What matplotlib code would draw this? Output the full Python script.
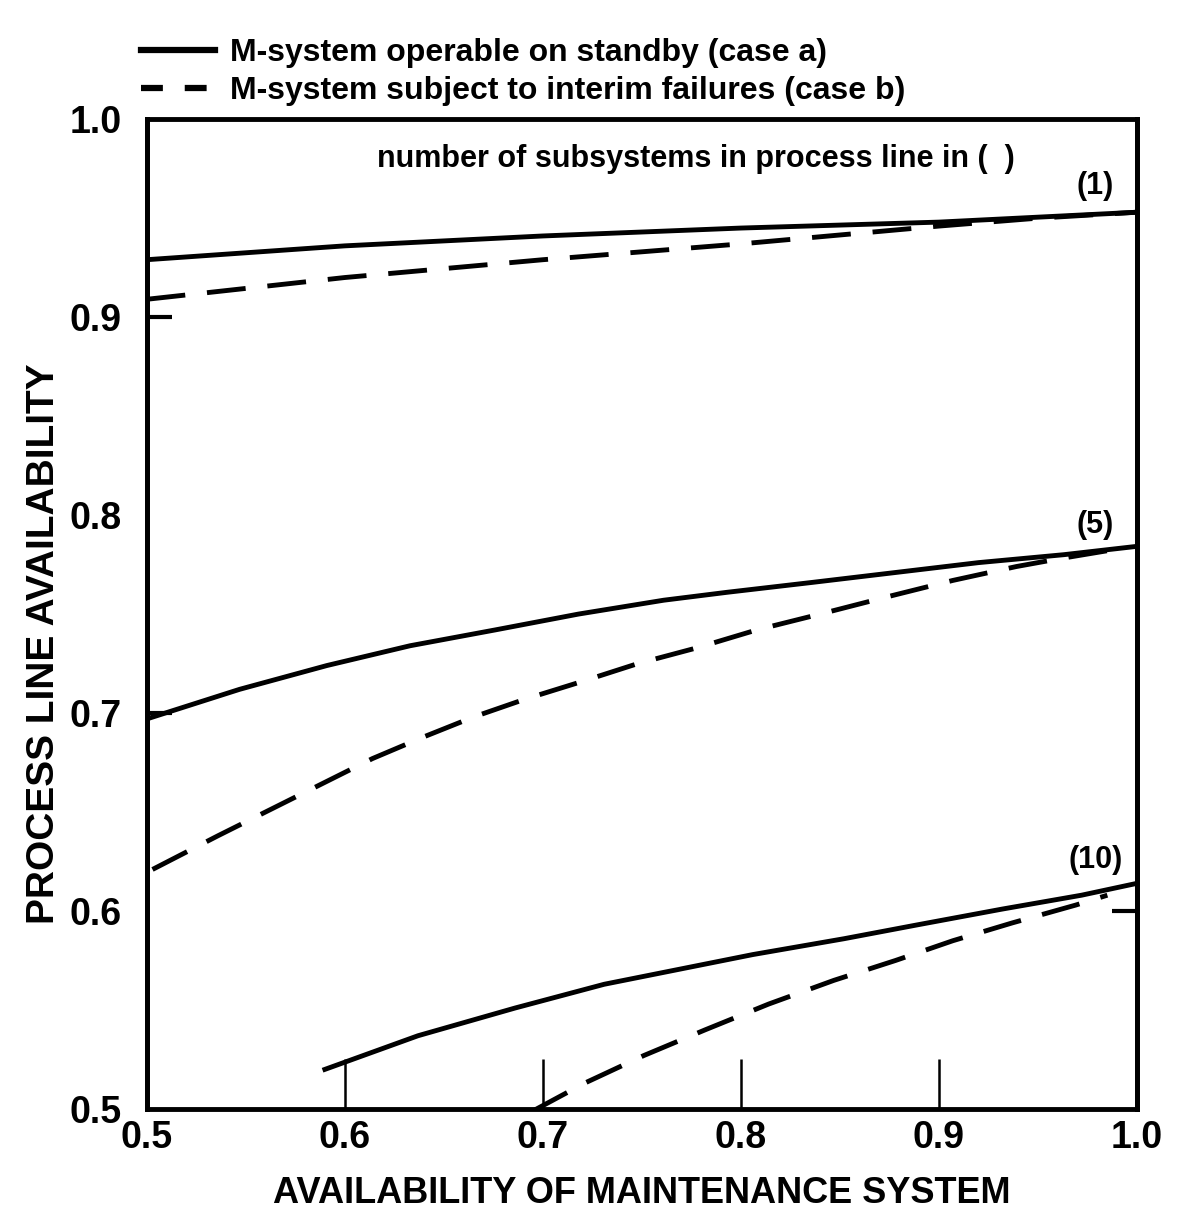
import matplotlib.pyplot as plt
from matplotlib.lines import Line2D

# values (1, 5 and 10 subsystems)
x_solid1 = [0.5, 0.6, 0.7, 0.8, 0.9, 1.0]
solid_1 = [0.929, 0.936, 0.941, 0.945, 0.948, 0.953]
x_dash1 = [0.5, 0.6, 0.7, 0.8, 0.9, 0.95, 1.0]
dashed_1 = [0.909, 0.920, 0.929, 0.937, 0.946, 0.950, 0.953]

x_solid5 = [0.5, 0.547, 0.591, 0.633, 0.676, 0.718, 0.761, 0.793, 0.836,
            0.878, 0.920, 0.963, 0.998]
solid_5 = [0.697, 0.712, 0.724, 0.734, 0.742, 0.750, 0.757, 0.761, 0.766,
           0.771, 0.776, 0.780, 0.784]
x_dash5 = [0.503, 0.536, 0.562, 0.588, 0.614, 0.640, 0.665, 0.691, 0.720,
           0.748, 0.778, 0.808, 0.840, 0.875, 0.907, 0.939, 0.961, 0.985]
dashed_5 = [0.621, 0.638, 0.651, 0.664, 0.677, 0.688, 0.698, 0.707, 0.716,
            0.725, 0.733, 0.742, 0.750, 0.759, 0.767, 0.774, 0.778, 0.782]

x_solid10 = [0.590, 0.637, 0.686, 0.731, 0.806, 0.852, 0.889, 0.932, 0.972, 1.0]
solid_10 = [0.520, 0.537, 0.551, 0.563, 0.578, 0.586, 0.593, 0.601, 0.608, 0.614]
x_dash10 = [0.695, 0.721, 0.751, 0.782, 0.814, 0.847, 0.878, 0.907, 0.937, 0.969, 0.985]
dashed_10 = [0.499, 0.513, 0.527, 0.540, 0.553, 0.565, 0.575, 0.585, 0.594, 0.603, 0.608]

x_ticks = [0.5, 0.6, 0.7, 0.8, 0.9, 1.0]
y_ticks = [0.5, 0.6, 0.7, 0.8, 0.9, 1.0]

plt.rcParams['font.family'] = ['Liberation Sans Narrow', 'Liberation Sans', 'DejaVu Sans']
plt.rcParams['font.weight'] = 'bold'

fig = plt.figure(figsize=(11.82, 12.16), dpi=100)
ax = fig.add_axes([0.124, 0.088, 0.838, 0.814])

lw = 3.5
dash = (8, 4.5)
ax.plot(x_solid1, solid_1, color='black', lw=lw)
ax.plot(x_dash1, dashed_1, color='black', lw=lw, dashes=dash)
ax.plot(x_solid5, solid_5, color='black', lw=lw)
ax.plot(x_dash5, dashed_5, color='black', lw=lw, dashes=dash)
ax.plot(x_solid10, solid_10, color='black', lw=lw)
ax.plot(x_dash10, dashed_10, color='black', lw=lw, dashes=dash)

ax.set_xlim(0.5, 1.0)
ax.set_ylim(0.5, 1.0)
for s in ax.spines.values():
    s.set_linewidth(3.5)

ax.set_xticks(x_ticks)
ax.set_xticklabels([f'{v:.1f}' for v in x_ticks])
ax.set_yticks(y_ticks)
ax.set_yticklabels([f'{v:.1f}' for v in y_ticks])
ax.tick_params(axis='x', direction='in', length=36, width=1.8, labelsize=27, pad=8)
ax.tick_params(axis='y', length=0, labelsize=27, pad=18)

# short inner ticks on the frame
left = ax.secondary_yaxis('left')
left.set_yticks([0.7, 0.9])
left.set_yticklabels(['', ''])
left.tick_params(direction='in', length=18, width=3)
left.spines['left'].set_linewidth(3.5)
right = ax.secondary_yaxis('right')
right.set_yticks([0.6])
right.set_yticklabels([''])
right.tick_params(direction='in', length=18, width=3)
right.spines['right'].set_linewidth(3.5)

ax.set_xlabel('AVAILABILITY OF MAINTENANCE SYSTEM', fontsize=26, fontweight='bold', labelpad=14)
ax.set_ylabel('PROCESS LINE AVAILABILITY', fontsize=28, fontweight='bold')
ax.yaxis.set_label_coords(-0.085, 0.47)

ax.text(0.555, 0.96, 'number of subsystems in process line in (  )',
        transform=ax.transAxes, ha='center', va='center', fontsize=22)
ax.text(0.979, 0.966, '(1)', ha='center', va='center', fontsize=22)
ax.text(0.979, 0.795, '(5)', ha='center', va='center', fontsize=22)
ax.text(0.979, 0.626, '(10)', ha='center', va='center', fontsize=22)

handles = [Line2D([], [], color='black', lw=4.5),
           Line2D([], [], color='black', lw=4.5, dashes=(3.5, 3.5))]
fig.legend(handles, ['M-system operable on standby (case a)',
                     'M-system subject to interim failures (case b)'],
           loc='upper left', bbox_to_anchor=(0.095, 0.992), frameon=False,
           fontsize=23, handlelength=2.3, handletextpad=0.5, labelspacing=0.25)

fig.savefig('out.png', dpi=100)
